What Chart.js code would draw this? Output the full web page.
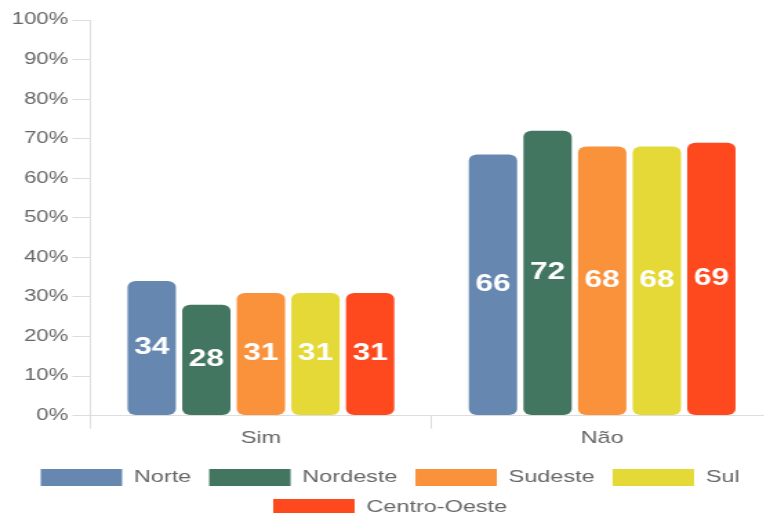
<!DOCTYPE html>
<html>
<head>
<meta charset="utf-8">
<script src="https://cdn.jsdelivr.net/npm/chart.js@4"></script>
<style>
    body { margin: 0; background: #fff; }
    #wrap { width: 764px; height: 513px; overflow: hidden; position: relative; }
    /* the chart is drawn narrow and widened, giving the broad lettering and bars */
    #stretch { width: 560px; height: 513px; transform: scaleX(1.38); transform-origin: 0 0; }
</style>
</head>
<body>
<div id="wrap"><div id="stretch"><canvas id="regionChart" width="560" height="513"></canvas></div></div>
<script>
const categories = ['Sim', 'Não'];
const regions = ['Norte', 'Nordeste', 'Sudeste', 'Sul', 'Centro-Oeste'];
const norte = [34, 66];
const nordeste = [28, 72];
const sudeste = [31, 68];
const sul = [31, 68];
const centroOeste = [31, 69];
const yTicks = [0, 10, 20, 30, 40, 50, 60, 70, 80, 90, 100];

const colors = ['#6587b0', '#437660', '#fa913b', '#e4d936', '#fe491f'];
const seriesData = [norte, nordeste, sudeste, sul, centroOeste];
const fontFamily = '"Liberation Sans", Arial, sans-serif';

// white value written in the middle of each bar
const barValues = {
    id: 'barValues',
    afterDatasetsDraw(chart) {
        const ctx = chart.ctx;
        ctx.save();
        ctx.fillStyle = '#fff';
        ctx.font = 'bold 23px ' + fontFamily;
        ctx.textAlign = 'center';
        ctx.textBaseline = 'middle';
        chart.data.datasets.forEach((ds, i) => {
            chart.getDatasetMeta(i).data.forEach((bar, j) => {
                const p = bar.getProps(['x', 'y', 'base'], true);
                ctx.fillText(String(ds.data[j]), p.x, (p.y + p.base) / 2);
            });
        });
        ctx.restore();
    }
};

const ctx = document.getElementById('regionChart').getContext('2d');
new Chart(ctx, {
    type: 'bar',
    data: {
        labels: categories,
        datasets: regions.map((name, i) => ({
            label: name,
            data: seriesData[i],
            backgroundColor: colors[i],
            borderWidth: 0,
            borderRadius: 6,
            borderSkipped: false,
            barPercentage: 0.885,
            categoryPercentage: 0.8
        }))
    },
    options: {
        responsive: false,
        animation: false,
        layout: { padding: { top: 20, left: 5.5, right: 0, bottom: -13 } },
        plugins: {
            tooltip: { enabled: false },
            legend: {
                position: 'bottom',
                labels: {
                    boxWidth: 59,
                    boxHeight: 17,
                    padding: 13,
                    color: '#666',
                    font: { size: 17, family: fontFamily }
                }
            }
        },
        scales: {
            x: {
                grid: { drawOnChartArea: false, offset: true, tickLength: 13, color: '#dddddd' },
                border: { color: '#dddddd' },
                ticks: { color: '#666', padding: 0, font: { size: 17, family: fontFamily } },
                // leave a gap between the category names and the legend
                afterFit: axis => { axis.height += 7; }
            },
            y: {
                min: 0,
                max: 100,
                afterBuildTicks: axis => { axis.ticks = yTicks.map(v => ({ value: v })); },
                grid: { drawOnChartArea: false, tickLength: 13, color: '#dddddd' },
                border: { color: '#dddddd' },
                ticks: {
                    color: '#666',
                    padding: 3,
                    font: { size: 16, family: fontFamily },
                    callback: v => v + '%'
                }
            }
        }
    },
    plugins: [barValues]
});
</script>
</body>
</html>
